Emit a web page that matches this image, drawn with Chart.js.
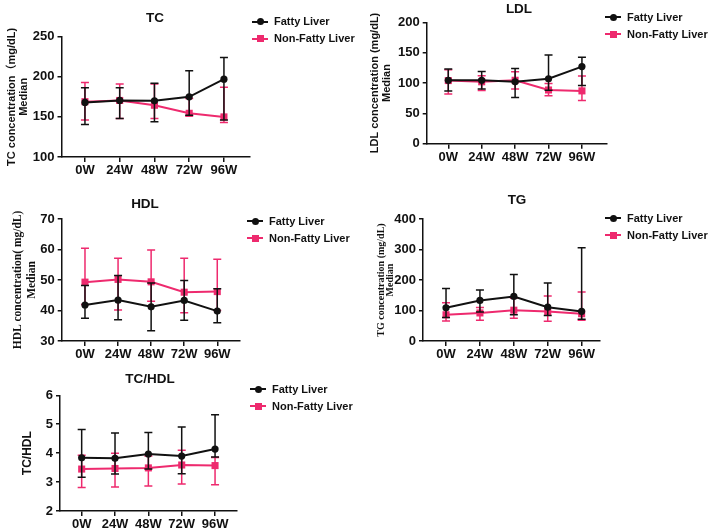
<!DOCTYPE html>
<html>
<head>
<meta charset="utf-8">
<script src="https://cdn.jsdelivr.net/npm/chart.js@4.4.1/dist/chart.umd.min.js"></script>
<style>
  html, body { margin: 0; padding: 0; background: #fff; }
  #page { position: relative; width: 708px; height: 532px; overflow: hidden;
          font-family: "Liberation Sans", Arial, sans-serif; font-weight: bold; color: #111; }
  #page canvas { position: absolute; }
  .ttl { position: absolute; font-size: 13.5px; transform: translate(-50%, -50%); white-space: nowrap; }
  .leg { position: absolute; font-size: 11px; white-space: nowrap; }
  .leg .row { position: relative; padding-left: 22px; height: 17px; line-height: 17px; }
  .mk { position: absolute; left: 0; top: 7.5px; width: 16px; height: 2px; }
  .mk i { position: absolute; left: 4.5px; top: -2.5px; width: 7px; height: 7px; }
  .mk i.dot { border-radius: 50%; }
</style>
</head>
<body>
<div id="page"></div>
<script>
const WEEKS = [0, 24, 48, 72, 96];
const WEEK_LABELS = ['0W', '24W', '48W', '72W', '96W'];
const SERIES_NAMES = ['Fatty Liver', 'Non-Fatty Liver'];

// medians with lower / upper error bar ends
const TC_FATTY    = [168, 170.5, 170, 175, 197];
const TC_FATTY_LO = [140.5, 148, 144, 152, 146];
const TC_FATTY_HI = [186.5, 186.5, 192, 207.5, 224];
const TC_NON      = [169, 170.5, 164.5, 154.5, 150];
const TC_NON_LO   = [146, 148, 148, 151, 143];
const TC_NON_HI   = [193, 191, 191, 173, 187];

const LDL_FATTY    = [104.5, 104.5, 102, 107, 127];
const LDL_FATTY_LO = [87, 90, 76, 88, 96];
const LDL_FATTY_HI = [123, 119, 124, 146, 142.5];
const LDL_NON      = [104, 102, 104.5, 88.5, 87];
const LDL_NON_LO   = [82, 87.5, 90, 79, 71];
const LDL_NON_HI   = [122, 112, 118.5, 99, 111.5];

const HDL_FATTY    = [41.8, 43.4, 41.2, 43.3, 39.8];
const HDL_FATTY_LO = [37.5, 37, 33.4, 36.8, 36];
const HDL_FATTY_HI = [48.2, 51.5, 49, 49.8, 47.1];
const HDL_NON      = [49.3, 50.2, 49.4, 46, 46.2];
const HDL_NON_LO   = [42, 40.2, 43, 39.3, 40];
const HDL_NON_HI   = [60.4, 57.1, 59.8, 57.1, 56.8];

const TG_FATTY    = [109, 133, 146, 111, 97];
const TG_FATTY_LO = [77, 95, 86, 84, 71];
const TG_FATTY_HI = [172, 167, 218, 190, 306];
const TG_NON      = [86, 92, 101, 97, 89.5];
const TG_NON_LO   = [65.5, 68, 75, 64.5, 68];
const TG_NON_HI   = [125.5, 110, 140, 147.5, 160.5];

const RATIO_FATTY    = [3.84, 3.82, 3.97, 3.9, 4.14];
const RATIO_FATTY_LO = [3.17, 3.28, 3.45, 3.29, 3.87];
const RATIO_FATTY_HI = [4.82, 4.7, 4.71, 4.9, 5.33];
const RATIO_NON      = [3.45, 3.47, 3.49, 3.59, 3.57];
const RATIO_NON_LO   = [2.81, 2.83, 2.86, 2.93, 2.91];
const RATIO_NON_HI   = [3.93, 4.0, 3.9, 4.1, 3.85];

const BLACK = '#111111', PINK = '#EE2A6E';
const SANS = '"Liberation Sans", Arial, "Noto Sans CJK SC", sans-serif';
const SERIF = '"Liberation Serif", "Times New Roman", serif';

const PANELS = [
  { title: 'TC', titlePos: [155, 17], legend: [252, 13],
    box: { x: 0, y: 0, w: 256, h: 185 }, area: { l: 61.5, t: 36.7, r: 250, b: 157 },
    xMin: -16.2, xMax: 114, yMin: 100, yMax: 250, step: 50,
    yTitle: ['TC concentration（mg/dL)', 'Median'], yFont: { family: SANS, size: 11, weight: 'bold', lineHeight: 1.1 }, yPad: 6,
    fatty: [TC_FATTY, TC_FATTY_LO, TC_FATTY_HI], non: [TC_NON, TC_NON_LO, TC_NON_HI] },
  { title: 'LDL', titlePos: [519, 8], legend: [605, 8.5],
    box: { x: 355, y: 0, w: 258, h: 172 }, area: { l: 426.7, t: 22.3, r: 607, b: 143.7 },
    xMin: -15.5, xMax: 114, yMin: 0, yMax: 200, step: 50,
    yTitle: ['LDL concentration (mg/dL)', 'Median'], yFont: { family: SANS, size: 11, weight: 'bold', lineHeight: 1.1 }, yPad: 14,
    fatty: [LDL_FATTY, LDL_FATTY_LO, LDL_FATTY_HI], non: [LDL_NON, LDL_NON_LO, LDL_NON_HI] },
  { title: 'HDL', titlePos: [145, 203], legend: [247, 212.5],
    box: { x: 0, y: 186, w: 245, h: 183 }, area: { l: 61.7, t: 219, r: 240, b: 341 },
    xMin: -16.9, xMax: 112.5, yMin: 30, yMax: 70, step: 10,
    yTitle: ['HDL concentration( mg/dL)', 'Median'], yFont: { family: SERIF, size: 11.5, weight: 'bold', lineHeight: 1.25 }, yPad: 10.8,
    fatty: [HDL_FATTY, HDL_FATTY_LO, HDL_FATTY_HI], non: [HDL_NON, HDL_NON_LO, HDL_NON_HI] },
  { title: 'TG', titlePos: [517, 199], legend: [605, 209.5],
    box: { x: 355, y: 186, w: 250, h: 183 }, area: { l: 423, t: 219, r: 600, b: 341 },
    xMin: -16.3, xMax: 109, yMin: 0, yMax: 400, step: 100,
    yTitle: ['TG concentration (mg/dL)', 'Median'], yFont: { family: SERIF, size: 10, weight: 'bold', lineHeight: 0.9 }, yPad: 21.5,
    fatty: [TG_FATTY, TG_FATTY_LO, TG_FATTY_HI], non: [TG_NON, TG_NON_LO, TG_NON_HI] },
  { title: 'TC/HDL', titlePos: [150, 378], legend: [250, 380.5],
    box: { x: 0, y: 372, w: 242, h: 160 }, area: { l: 60, t: 395.3, r: 237, b: 511 },
    xMin: -15.6, xMax: 111.8, yMin: 2, yMax: 6, step: 1,
    yTitle: 'TC/HDL', yFont: { family: SANS, size: 12, weight: 'bold', lineHeight: 1.2 }, yPad: 20.8,
    fatty: [RATIO_FATTY, RATIO_FATTY_LO, RATIO_FATTY_HI], non: [RATIO_NON, RATIO_NON_LO, RATIO_NON_HI] },
];

const page = document.getElementById('page');

// vertical error bars with caps, drawn under each dataset's line and markers
const errorBars = {
  id: 'errorBars',
  beforeDatasetDraw(chart, args) {
    const ds = chart.data.datasets[args.index];
    const y = chart.scales.y, ctx = chart.ctx;
    ctx.save();
    ctx.strokeStyle = ds.borderColor;
    ctx.lineWidth = 1.5;
    args.meta.data.forEach((pt, j) => {
      const top = y.getPixelForValue(ds.errHi[j]);
      const bot = y.getPixelForValue(ds.errLo[j]);
      ctx.beginPath();
      ctx.moveTo(pt.x, top); ctx.lineTo(pt.x, bot);
      ctx.moveTo(pt.x - 4, top); ctx.lineTo(pt.x + 4, top);
      ctx.moveTo(pt.x - 4, bot); ctx.lineTo(pt.x + 4, bot);
      ctx.stroke();
    });
    ctx.restore();
  }
};

function series(label, [med, lo, hi], color, shape) {
  return {
    label, data: WEEKS.map((w, i) => ({ x: w, y: med[i] })),
    errLo: lo, errHi: hi,
    borderColor: color, backgroundColor: color, borderWidth: 2,
    pointStyle: shape, pointRadius: shape === 'rect' ? 5 : 3.6, pointBorderWidth: 0,
    tension: 0, clip: false
  };
}

function addText(p) {
  const t = document.createElement('div');
  t.className = 'ttl';
  t.style.left = p.titlePos[0] + 'px';
  t.style.top = p.titlePos[1] + 'px';
  t.textContent = p.title;
  page.appendChild(t);

  const lg = document.createElement('div');
  lg.className = 'leg';
  lg.style.left = p.legend[0] + 'px';
  lg.style.top = p.legend[1] + 'px';
  lg.innerHTML = SERIES_NAMES.map((name, i) => {
    const c = i === 0 ? BLACK : PINK;
    return `<div class="row"><span class="mk" style="background:${c}"><i class="${i === 0 ? 'dot' : ''}" style="background:${c}"></i></span>${name}</div>`;
  }).join('');
  page.appendChild(lg);
}

function makeChart(p) {
  const cv = document.createElement('canvas');
  cv.width = p.box.w; cv.height = p.box.h;
  cv.style.left = p.box.x + 'px'; cv.style.top = p.box.y + 'px';
  cv.style.width = p.box.w + 'px'; cv.style.height = p.box.h + 'px';
  page.appendChild(cv);

  const padTop = p.area.t - p.box.y, padRight = p.box.x + p.box.w - p.area.r;
  const yW = p.area.l - p.box.x, xH = p.box.y + p.box.h - p.area.b;
  const tickFont = { family: SANS, size: 13, weight: 'bold' };
  const grid = { display: true, drawOnChartArea: false, drawTicks: true, color: BLACK, lineWidth: 1.5 };
  const border = { display: true, color: BLACK, width: 1.5 };

  new Chart(cv, {
    type: 'line',
    data: { datasets: [series(SERIES_NAMES[0], p.fatty, BLACK, 'circle'), series(SERIES_NAMES[1], p.non, PINK, 'rect')] },
    options: {
      responsive: false, animation: false, events: [],
      layout: { padding: { top: padTop, right: padRight, left: 0, bottom: 0 } },
      plugins: { legend: { display: false }, tooltip: { enabled: false } },
      scales: {
        x: {
          type: 'linear', min: p.xMin, max: p.xMax,
          afterBuildTicks: s => { s.ticks = WEEKS.map(v => ({ value: v })); },
          afterFit: s => { s.height = xH; },
          ticks: { callback: v => WEEK_LABELS[WEEKS.indexOf(v)], font: tickFont, color: BLACK, padding: 1, maxRotation: 0, autoSkip: false },
          grid: { ...grid, tickLength: 5 }, border
        },
        y: {
          min: p.yMin, max: p.yMax,
          afterFit: s => { s.width = yW; },
          ticks: { stepSize: p.step, font: tickFont, color: BLACK, padding: 3 },
          grid: { ...grid, tickLength: 4 }, border,
          title: { display: true, text: p.yTitle, font: p.yFont, color: BLACK, padding: { top: p.yPad, bottom: 0 } }
        }
      }
    },
    plugins: [errorBars]
  });
}

PANELS.forEach(p => { makeChart(p); addText(p); });
</script>
</body>
</html>
